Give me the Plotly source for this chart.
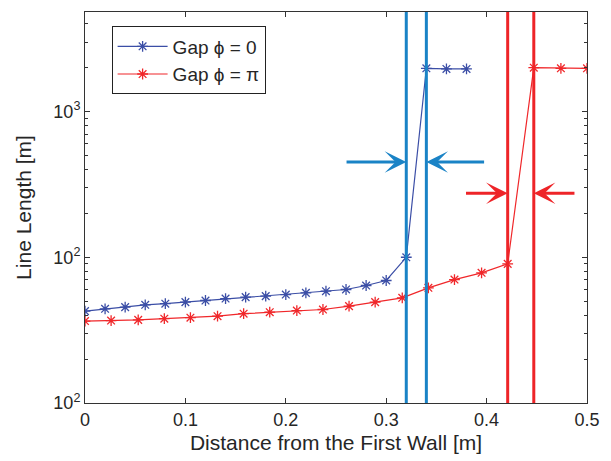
import plotly.graph_objects as go
import math

# ---- data ----
x_phi0 = [0.00, 0.02, 0.04, 0.06, 0.08, 0.10, 0.12, 0.14, 0.16, 0.18,
          0.20, 0.22, 0.24, 0.26, 0.28, 0.30, 0.32, 0.34, 0.36, 0.38]
y_phi0 = [42.7, 44.3, 45.5, 47.2, 48.0, 49.2, 50.5, 52.1, 53.3, 54.1,
          55.5, 57.0, 58.5, 60.1, 64.0, 69.3, 100, 1980, 1960, 1960]

x_phipi = [0.000, 0.026, 0.053, 0.079, 0.105, 0.132, 0.158, 0.184, 0.211, 0.237,
           0.263, 0.289, 0.316, 0.342, 0.368, 0.395, 0.421, 0.447, 0.474, 0.500]
y_phipi = [36.5, 36.8, 37.2, 37.9, 38.5, 39.4, 41.0, 42.0, 43.1, 43.8,
           46.2, 49.2, 52.7, 61.7, 70.3, 78.2, 90.1, 2000, 1980, 1980]

gap_phi0 = [0.32, 0.34]
gap_phipi = [0.421, 0.447]
arrow_y_phi0 = 450
arrow_y_phipi = 275
arrow_tails_phi0 = [0.259, 0.399]
arrow_tails_phipi = [0.378, 0.489]

x_ticks = [0, 0.1, 0.2, 0.3, 0.4, 0.5]
x_ticklabels = ["0", "0.1", "0.2", "0.3", "0.4", "0.5"]
y_ticks = [10, 100, 1000]
y_ticklabels = ["10<sup>2</sup>", "10<sup>2</sup>", "10<sup>3</sup>"]

series_blue = "#3b4ea6"
series_red = "#f0272a"
gap_blue = "#1a83c6"
gap_red = "#ee2428"
txt = "#262626"
font = "Liberation Sans, Arial, Helvetica, sans-serif"

fig = go.Figure()
fig.add_trace(go.Scatter(
    x=x_phi0, y=y_phi0, mode="lines+markers", name="Gap \u03d5 = 0",
    line=dict(color=series_blue, width=1.2),
    marker=dict(symbol="asterisk-open", size=9, line=dict(color=series_blue, width=1.3))))
fig.add_trace(go.Scatter(
    x=x_phipi, y=y_phipi, mode="lines+markers", name="Gap \u03d5 = \u03c0",
    line=dict(color=series_red, width=1.2),
    marker=dict(symbol="asterisk-open", size=9, line=dict(color=series_red, width=1.3))))

for g in gap_phi0:
    fig.add_vline(x=g, line=dict(color=gap_blue, width=3))
for g in gap_phipi:
    fig.add_vline(x=g, line=dict(color=gap_red, width=3))

def arrow(head, tail, yv, color):
    fig.add_annotation(x=head, y=math.log10(yv), ax=tail, ay=math.log10(yv),
                       xref="x", yref="y", axref="x", ayref="y", text="",
                       showarrow=True, arrowhead=3, arrowsize=1.2, arrowwidth=3,
                       arrowcolor=color, standoff=0)

arrow(gap_phi0[0], arrow_tails_phi0[0], arrow_y_phi0, gap_blue)
arrow(gap_phi0[1], arrow_tails_phi0[1], arrow_y_phi0, gap_blue)
arrow(gap_phipi[0], arrow_tails_phipi[0], arrow_y_phipi, gap_red)
arrow(gap_phipi[1], arrow_tails_phipi[1], arrow_y_phipi, gap_red)

minor_vals = [m * d for d in (10, 100, 1000) for m in range(2, 10)]

fig.update_xaxes(range=[0, 0.5], tickvals=x_ticks, ticktext=x_ticklabels,
                 ticks="inside", ticklen=5, tickcolor="#333", showline=True,
                 linecolor="#333", linewidth=1, mirror="ticks", showgrid=False,
                 zeroline=False, tickfont=dict(size=18, color=txt, family=font),
                 title=dict(text="Distance from the First Wall [m]", standoff=6,
                            font=dict(size=21, color=txt, family=font)))
fig.update_yaxes(type="log", range=[1, 3.683], tickvals=y_ticks, ticktext=y_ticklabels,
                 ticks="inside", ticklen=5, tickcolor="#333", showline=True,
                 linecolor="#333", linewidth=1, mirror="ticks", showgrid=False,
                 zeroline=False, tickfont=dict(size=18, color=txt, family=font),
                 minor=dict(tickvals=minor_vals, ticks="inside", ticklen=3, tickcolor="#333", showgrid=False),
                 title=dict(text="Line Length [m]", standoff=16,
                            font=dict(size=21, color=txt, family=font)))

fig.update_layout(
    width=611, height=461, paper_bgcolor="white", plot_bgcolor="white",
    margin=dict(l=85, r=17, t=11, b=57),
    font=dict(family=font, color=txt, size=18),
    legend=dict(x=0.053, y=0.963, xanchor="left", yanchor="top",
                bgcolor="white", bordercolor="#222", borderwidth=1,
                itemwidth=50,
                font=dict(size=19, color=txt, family=font), tracegroupgap=0),
    showlegend=True,
)

fig.write_html("out.html")
